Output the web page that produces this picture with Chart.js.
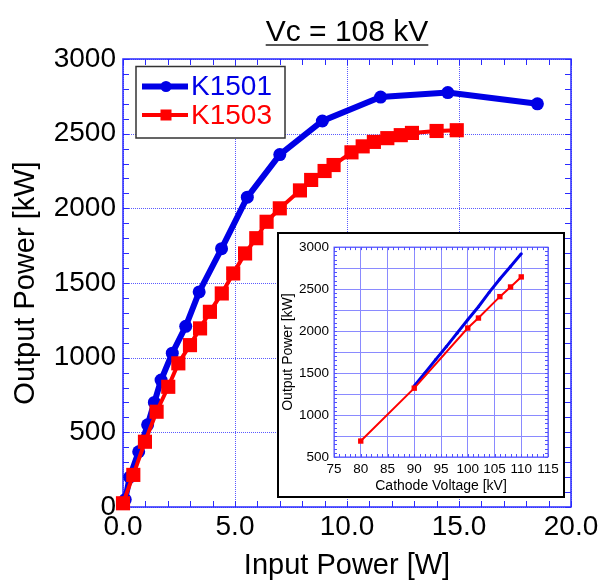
<!DOCTYPE html>
<html>
<head>
<meta charset="utf-8">
<script src="https://cdn.jsdelivr.net/npm/chart.js@4.4.1/dist/chart.umd.min.js"></script>
<style>
  html, body { margin: 0; padding: 0; background: #fff; }
  #wrap { position: relative; width: 602px; height: 584px; }
  #main { position: absolute; left: 0; top: 0; }
  #insetBox { position: absolute; left: 277px; top: 232px; width: 288px; height: 266px;
              box-sizing: border-box; border: 2px solid #000; background: #fff; }
  #inset { display: block; }
</style>
</head>
<body>
<div id="wrap">
  <canvas id="main" width="602" height="584"></canvas>
  <div id="insetBox"><canvas id="inset" width="284" height="262"></canvas></div>
</div>
<script>
// ---------- data: main chart ----------
const titleText = 'Vc = 108 kV';
const xTitle = 'Input Power [W]';
const yTitle = 'Output Power [kW]';
const seriesNames = ['K1501', 'K1503'];

const k1501X = [0.1, 0.3, 0.7, 1.1, 1.4, 1.7, 2.2, 2.8, 3.4, 4.4, 5.55, 7.0, 8.9, 11.5, 14.5, 18.5];
const k1501Y = [50, 200, 370, 550, 700, 850, 1030, 1210, 1440, 1730, 2075, 2360, 2585, 2745, 2775, 2700];

const k1503X = [0.0, 0.46, 0.98, 1.5, 2.02, 2.47, 2.99, 3.44, 3.88, 4.41, 4.92, 5.45, 5.95, 6.41, 7.0, 7.9, 8.4, 9.0, 9.4, 10.2, 10.7, 11.2, 11.8, 12.4, 12.9, 14.0, 14.9];
const k1503Y = [25, 215, 437, 638, 805, 962, 1084, 1196, 1307, 1430, 1564, 1698, 1800, 1910, 2000, 2120, 2190, 2250, 2290, 2375, 2415, 2445, 2470, 2490, 2505, 2518, 2523];

// ---------- data: inset chart ----------
const insetXTitle = 'Cathode Voltage [kV]';
const insetYTitle = 'Output Power [kW]';
const insetBlueX = [90, 92, 94, 96, 98, 100, 102, 104, 106, 108, 110];
const insetBlueY = [1345, 1500, 1660, 1815, 1975, 2135, 2290, 2460, 2620, 2770, 2920];
const insetRedX = [80, 90, 100, 102, 106, 108, 110];
const insetRedY = [690, 1320, 2036, 2155, 2410, 2525, 2645];

// ---------- styles ----------
const FONT = '"Liberation Sans", Arial, Helvetica, sans-serif';
const BLUE = '#0000e6';
const RED = '#ff0000';
const GRID = '#5a5aff';
const FRAME = '#2a2aff';

const pts = (xs, ys) => xs.map((x, i) => ({ x: x, y: ys[i] }));

// dotted grid at the major ticks, frame + inward minor ticks on all four sides
const frameTicks = {
  id: 'frameTicks',
  beforeDatasetsDraw(chart, args, o) {
    const { ctx, chartArea: a, scales: { x, y } } = chart;
    ctx.save();
    if (o.dotGrid) {
      ctx.fillStyle = o.dotGrid;
      x.ticks.forEach(t => {
        const px = Math.round(x.getPixelForValue(t.value));
        for (let py = Math.ceil(a.top); py < a.bottom; py += 2) ctx.fillRect(px, py, 1, 1);
      });
      y.ticks.forEach(t => {
        const py = Math.round(y.getPixelForValue(t.value));
        for (let px = Math.ceil(a.left); px < a.right; px += 2) ctx.fillRect(px, py, 1, 1);
      });
    }
    ctx.strokeStyle = o.color;
    ctx.lineWidth = o.tickWidth;
    ctx.beginPath();
    const nx = Math.round((x.max - x.min) / o.xStep);
    for (let i = 0; i <= nx; i++) {
      const px = Math.round(x.getPixelForValue(x.min + i * o.xStep)) + 0.5;
      ctx.moveTo(px, a.bottom); ctx.lineTo(px, a.bottom - o.len);
      ctx.moveTo(px, a.top); ctx.lineTo(px, a.top + o.len);
    }
    const ny = Math.round((y.max - y.min) / o.yStep);
    for (let i = 0; i <= ny; i++) {
      const py = Math.round(y.getPixelForValue(y.min + i * o.yStep)) + 0.5;
      ctx.moveTo(a.left, py); ctx.lineTo(a.left + o.len, py);
      ctx.moveTo(a.right, py); ctx.lineTo(a.right - o.len, py);
    }
    ctx.stroke();
    ctx.lineWidth = o.frameWidth;
    ctx.strokeRect(a.left, a.top, a.right - a.left, a.bottom - a.top);
    ctx.restore();
  }
};

// underlined title + boxed legend inside the plot
const boxLegend = {
  id: 'boxLegend',
  afterDraw(chart, args, o) {
    const ctx = chart.ctx;
    ctx.save();
    if (o.title) {
      ctx.font = '30px ' + FONT;
      ctx.fillStyle = '#000';
      ctx.textAlign = 'center';
      ctx.textBaseline = 'alphabetic';
      const cx = (chart.chartArea.left + chart.chartArea.right) / 2;
      ctx.fillText(o.title, cx, o.titleY);
      const w = ctx.measureText(o.title).width;
      ctx.strokeStyle = '#222';
      ctx.lineWidth = 1.5;
      ctx.beginPath();
      ctx.moveTo(cx - w / 2, o.underlineY); ctx.lineTo(cx + w / 2, o.underlineY);
      ctx.stroke();
    }
    ctx.fillStyle = '#fff';
    ctx.fillRect(o.x, o.y, o.w, o.h);
    ctx.strokeStyle = '#333';
    ctx.lineWidth = 1.5;
    ctx.strokeRect(o.x, o.y, o.w, o.h);
    const ds = chart.data.datasets;
    ctx.font = '28px ' + FONT;
    ctx.textBaseline = 'middle';
    ctx.textAlign = 'left';
    o.rows.forEach((ry, i) => {
      const d = ds[i];
      ctx.strokeStyle = d.borderColor;
      ctx.lineWidth = i === 0 ? 6 : 4;
      ctx.beginPath();
      ctx.moveTo(o.x + 6, ry); ctx.lineTo(o.x + 52, ry);
      ctx.stroke();
      ctx.fillStyle = d.borderColor;
      const mx = o.x + 30;
      if (i === 0) {
        ctx.beginPath(); ctx.arc(mx, ry, 5.5, 0, Math.PI * 2); ctx.fill();
      } else {
        ctx.fillRect(mx - 5.5, ry - 5.5, 11, 11);
      }
      ctx.fillText(d.label, o.x + 55, ry + 1);
    });
    ctx.restore();
  }
};

new Chart(document.getElementById('main'), {
  type: 'line',
  data: {
    datasets: [
      { label: seriesNames[0], data: pts(k1501X, k1501Y), borderColor: BLUE, backgroundColor: BLUE,
        borderWidth: 6, pointStyle: 'circle', pointRadius: 6.5, pointBorderWidth: 0,
        pointBackgroundColor: BLUE, tension: 0, order: 2, clip: false },
      { label: seriesNames[1], data: pts(k1503X, k1503Y), borderColor: RED, backgroundColor: RED,
        borderWidth: 4, pointStyle: 'rect', pointRadius: 10, pointBorderWidth: 0,
        pointBackgroundColor: RED, tension: 0, order: 1, clip: false }
    ]
  },
  options: {
    responsive: false, animation: false, devicePixelRatio: 1,
    layout: { padding: { top: 59, right: 31, left: 0, bottom: 0 } },
    plugins: {
      legend: { display: false }, tooltip: { enabled: false }, title: { display: false },
      frameTicks: { dotGrid: GRID, color: FRAME, tickWidth: 1, len: 6, xStep: 1, yStep: 100, frameWidth: 1.5 },
      boxLegend: { x: 136, y: 66.5, w: 149, h: 71.5, rows: [86.5, 115],
                   title: titleText, titleY: 41, underlineY: 45 }
    },
    scales: {
      x: {
        type: 'linear', min: 0, max: 20,
        ticks: { stepSize: 5, callback: v => v.toFixed(1), color: '#000', font: { family: FONT, size: 28 },
                 padding: 3, maxRotation: 0, autoSkip: false },
        grid: { display: false, drawTicks: false },
        border: { display: false },
        title: { display: true, text: xTitle, color: '#000', font: { family: FONT, size: 29 }, padding: { top: 0, bottom: 1 } },
        afterFit: s => { s.height = 77; }
      },
      y: {
        type: 'linear', min: 0, max: 3000,
        ticks: { stepSize: 500, callback: v => String(v), color: '#000', font: { family: FONT, size: 28 }, padding: 7 },
        grid: { display: false, drawTicks: false },
        border: { display: false },
        title: { display: true, text: yTitle, color: '#000', font: { family: FONT, size: 29 }, padding: { top: 9, bottom: 0 } },
        afterFit: s => { s.width = 123; }
      }
    }
  },
  plugins: [frameTicks, boxLegend]
});

new Chart(document.getElementById('inset'), {
  type: 'line',
  data: {
    datasets: [
      { label: seriesNames[0], data: pts(insetBlueX, insetBlueY), borderColor: BLUE, backgroundColor: BLUE,
        borderWidth: 3, pointStyle: 'circle', pointRadius: 1.5, pointBorderWidth: 0,
        pointBackgroundColor: BLUE, tension: 0, order: 2, clip: false },
      { label: seriesNames[1], data: pts(insetRedX, insetRedY), borderColor: RED, backgroundColor: RED,
        borderWidth: 2, pointStyle: 'rect', pointRadius: 3.8, pointBorderWidth: 0,
        pointBackgroundColor: RED, tension: 0, order: 1, clip: false }
    ]
  },
  options: {
    responsive: false, animation: false, devicePixelRatio: 1,
    layout: { padding: { top: 10, right: 15, left: 0, bottom: 0 } },
    plugins: {
      legend: { display: false }, tooltip: { enabled: false },
      frameTicks: { color: '#5050ff', tickWidth: 1, len: 3, xStep: 1, yStep: 50, frameWidth: 1 }
    },
    scales: {
      x: {
        type: 'linear', min: 75, max: 115,
        ticks: { stepSize: 5, color: '#000', font: { family: FONT, size: 13.5 }, padding: 4, maxRotation: 0, autoSkip: false },
        grid: { color: '#8a8aff', lineWidth: 1, drawTicks: false },
        border: { display: false },
        title: { display: true, text: insetXTitle, color: '#000', font: { family: FONT, size: 14 }, padding: { top: 0, bottom: 1 } },
        afterFit: s => { s.height = 39; }
      },
      y: {
        type: 'linear', min: 500, max: 3000,
        ticks: { stepSize: 250, callback: v => (v % 500 === 0 ? String(v) : ''), color: '#000',
                 font: { family: FONT, size: 13.5 }, padding: 5 },
        grid: { color: '#8a8aff', lineWidth: 1, drawTicks: false },
        border: { display: false },
        title: { display: true, text: insetYTitle, color: '#000', font: { family: FONT, size: 14 }, padding: { top: 1, bottom: 0 } },
        afterFit: s => { s.width = 55; }
      }
    }
  },
  plugins: [frameTicks]
});
</script>
</body>
</html>
